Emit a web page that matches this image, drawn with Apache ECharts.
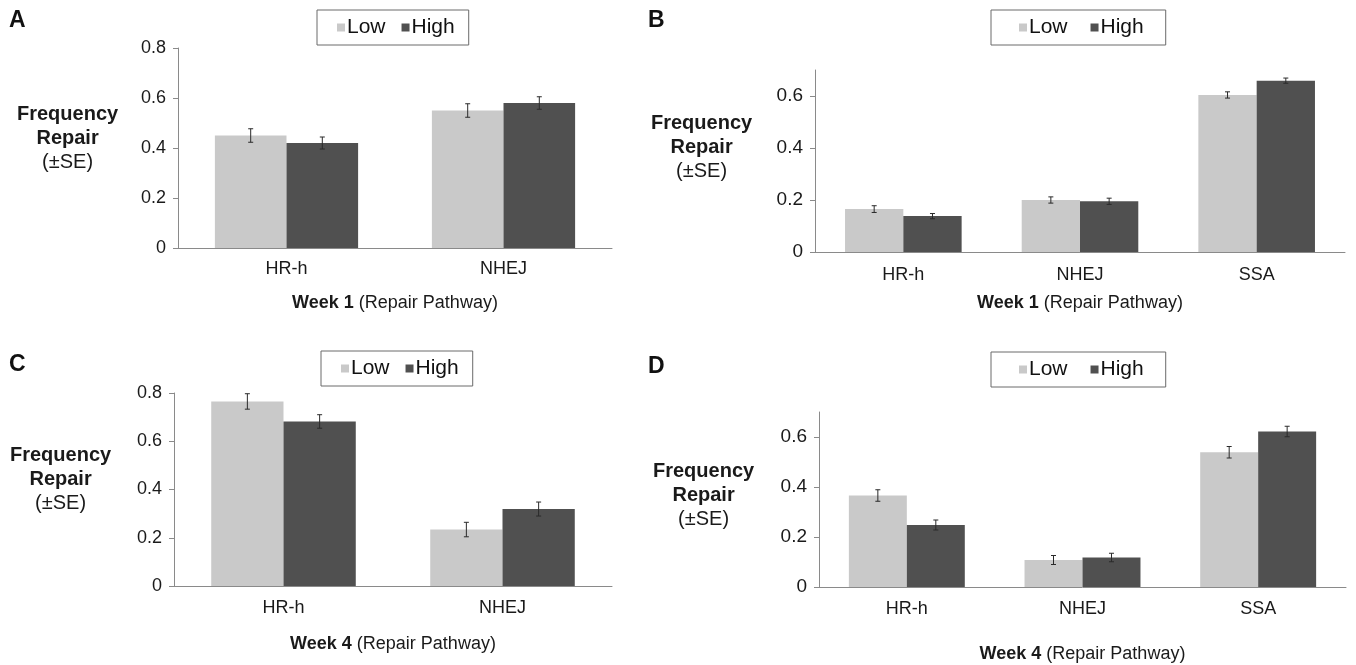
<!DOCTYPE html>
<html>
<head>
<meta charset="utf-8">
<script src="https://cdn.jsdelivr.net/npm/echarts@6/dist/echarts.min.js"></script>
<style>
  html, body { margin: 0; padding: 0; background: #fff; }
  #chart { width: 1356px; height: 665px; }
</style>
</head>
<body>
<div id="chart"></div>
<script>
// panel A: week 1, two pathways
const catsA = ['HR-h', 'NHEJ'];
const lowA = [0.45, 0.55];
const highA = [0.42, 0.58];
const lowErrA = [0.027, 0.027];
const highErrA = [0.024, 0.025];

// panel B: week 1, three pathways
const catsB = ['HR-h', 'NHEJ', 'SSA'];
const lowB = [0.165, 0.200, 0.604];
const highB = [0.138, 0.195, 0.659];
const lowErrB = [0.013, 0.012, 0.012];
const highErrB = [0.010, 0.012, 0.010];

// panel C: week 4, two pathways
const catsC = ['HR-h', 'NHEJ'];
const lowC = [0.765, 0.234];
const highC = [0.682, 0.319];
const lowErrC = [0.032, 0.030];
const highErrC = [0.028, 0.029];

// panel D: week 4, three pathways
const catsD = ['HR-h', 'NHEJ', 'SSA'];
const lowD = [0.366, 0.108, 0.539];
const highD = [0.248, 0.118, 0.622];
const lowErrD = [0.023, 0.018, 0.023];
const highErrD = [0.020, 0.017, 0.021];

const ticksAC = [0, 0.2, 0.4, 0.6, 0.8];
const ticksBD = [0, 0.2, 0.4, 0.6];

const FONT = 'Liberation Sans, Arial, sans-serif';
const LOW_COLOR = '#c9c9c9';
const HIGH_COLOR = '#505050';
const AXIS_COLOR = '#8a8a8a';
const GAP = 0.34;

const panels = [
    { cats: catsA, low: lowA, high: highA, lowErr: lowErrA, highErr: highErrA, ticks: ticksAC, max: 0.8,
      grid: { left: 178, top: 48, width: 434, height: 200 }, week: 'Week 1', nameGap: 46, labelMargin: 12, tickFont: 18,
      legend: { left: 317, top: 10, padding: [7, 14, 7, 20], itemGap: 16 } },
    { cats: catsB, low: lowB, high: highB, lowErr: lowErrB, highErr: highErrB, ticks: ticksBD, max: 0.7,
      grid: { left: 815, top: 70, width: 530, height: 182 }, week: 'Week 1', nameGap: 42, labelMargin: 14, tickFont: 19,
      legend: { left: 991, top: 10, padding: [7, 22, 7, 28], itemGap: 23 } },
    { cats: catsC, low: lowC, high: highC, lowErr: lowErrC, highErr: highErrC, ticks: ticksAC, max: 0.8,
      grid: { left: 174, top: 393, width: 438, height: 193 }, week: 'Week 4', nameGap: 49, labelMargin: 13, tickFont: 18,
      legend: { left: 321, top: 351, padding: [7, 14, 7, 20], itemGap: 16 } },
    { cats: catsD, low: lowD, high: highD, lowErr: lowErrD, highErr: highErrD, ticks: ticksBD, max: 0.7,
      grid: { left: 819, top: 412, width: 527, height: 175 }, week: 'Week 4', nameGap: 58, labelMargin: 13, tickFont: 19,
      legend: { left: 991, top: 352, padding: [7, 22, 7, 28], itemGap: 23 } }
];

function errorBar(params, api) {
    const idx = api.value(0);
    const v = api.value(1);
    const e = api.value(2);
    const side = api.value(3);
    const catW = api.size([1, 0])[0];
    const barW = catW * (1 - GAP) / 2;
    const cx = api.coord([idx, v])[0] + side * barW / 2;
    const yTop = api.coord([idx, v + e])[1];
    const yBot = api.coord([idx, v - e])[1];
    const style = { stroke: '#2a2a2a', lineWidth: 1 };
    return {
        type: 'group',
        children: [
            { type: 'line', shape: { x1: cx, y1: yTop, x2: cx, y2: yBot }, style: style },
            { type: 'line', shape: { x1: cx - 2.5, y1: yTop, x2: cx + 2.5, y2: yTop }, style: style },
            { type: 'line', shape: { x1: cx - 2.5, y1: yBot, x2: cx + 2.5, y2: yBot }, style: style }
        ]
    };
}

const grids = [], xAxes = [], yAxes = [], legends = [], series = [];
panels.forEach(function (p, i) {
    grids.push(p.grid);
    xAxes.push({
        type: 'category',
        gridIndex: i,
        data: p.cats,
        axisLine: { lineStyle: { color: AXIS_COLOR } },
        axisTick: { length: 5, lineStyle: { color: AXIS_COLOR } },
        axisLabel: { fontSize: 18, fontFamily: FONT, color: '#1a1a1a', margin: p.labelMargin },
        name: '{b|' + p.week + '} (Repair Pathway)',
        nameLocation: 'middle',
        nameGap: p.nameGap,
        nameTextStyle: {
            fontSize: 18, fontFamily: FONT, color: '#1a1a1a',
            rich: { b: { fontSize: 18, fontFamily: FONT, fontWeight: 'bold', color: '#1a1a1a' } }
        }
    });
    yAxes.push({
        type: 'value',
        gridIndex: i,
        min: 0,
        max: p.max,
        interval: 0.2,
        splitLine: { show: false },
        axisLine: { show: true, lineStyle: { color: AXIS_COLOR } },
        axisTick: { show: true, length: 5, lineStyle: { color: AXIS_COLOR }, customValues: p.ticks },
        axisLabel: { fontSize: p.tickFont, fontFamily: FONT, color: '#1a1a1a', margin: 12, customValues: p.ticks }
    });
    legends.push({
        left: p.legend.left,
        top: p.legend.top,
        data: ['Low', 'High'],
        icon: 'rect',
        itemWidth: 8,
        itemHeight: 8,
        itemGap: p.legend.itemGap,
        padding: p.legend.padding,
        borderColor: '#6a6a6a',
        borderWidth: 1,
        borderRadius: 0,
        selectedMode: false,
        textStyle: { fontSize: 21, fontFamily: FONT, color: '#111', padding: [0, 0, 0, -3] }
    });
    series.push({
        name: 'Low', type: 'bar', xAxisIndex: i, yAxisIndex: i,
        data: p.low, barGap: 0, barCategoryGap: (GAP * 100) + '%',
        itemStyle: { color: LOW_COLOR }
    });
    series.push({
        name: 'High', type: 'bar', xAxisIndex: i, yAxisIndex: i,
        data: p.high, barGap: 0, barCategoryGap: (GAP * 100) + '%',
        itemStyle: { color: HIGH_COLOR }
    });
    const errData = [];
    p.cats.forEach(function (c, k) {
        errData.push([k, p.low[k], p.lowErr[k], -1]);
        errData.push([k, p.high[k], p.highErr[k], 1]);
    });
    series.push({
        type: 'custom', xAxisIndex: i, yAxisIndex: i,
        renderItem: errorBar, data: errData, z: 5, silent: true
    });
});

function yTitle(x, y) {
    return {
        type: 'text', left: x, top: y,
        style: {
            text: '{b|Frequency}\n{b|Repair}\n{n|(±SE)}',
            align: 'center',
            rich: {
                b: { fontSize: 20, fontWeight: 'bold', fontFamily: FONT, fill: '#1a1a1a', lineHeight: 24, align: 'center' },
                n: { fontSize: 20, fontFamily: FONT, fill: '#1a1a1a', lineHeight: 24, align: 'center' }
            }
        }
    };
}

function letter(t, x, y) {
    return {
        type: 'text', left: x, top: y,
        style: { text: t, fontSize: 23, fontWeight: 'bold', fontFamily: FONT, fill: '#111' }
    };
}

const chart = echarts.init(document.getElementById('chart'), null, { renderer: 'canvas' });
chart.setOption({
    backgroundColor: '#ffffff',
    animation: false,
    grid: grids,
    xAxis: xAxes,
    yAxis: yAxes,
    legend: legends,
    series: series,
    graphic: [
        letter('A', 9, 9),
        letter('B', 648, 9),
        letter('C', 9, 353),
        letter('D', 648, 355),
        yTitle(17, 104),
        yTitle(651, 113),
        yTitle(10, 445),
        yTitle(653, 461)
    ]
});
</script>
</body>
</html>
